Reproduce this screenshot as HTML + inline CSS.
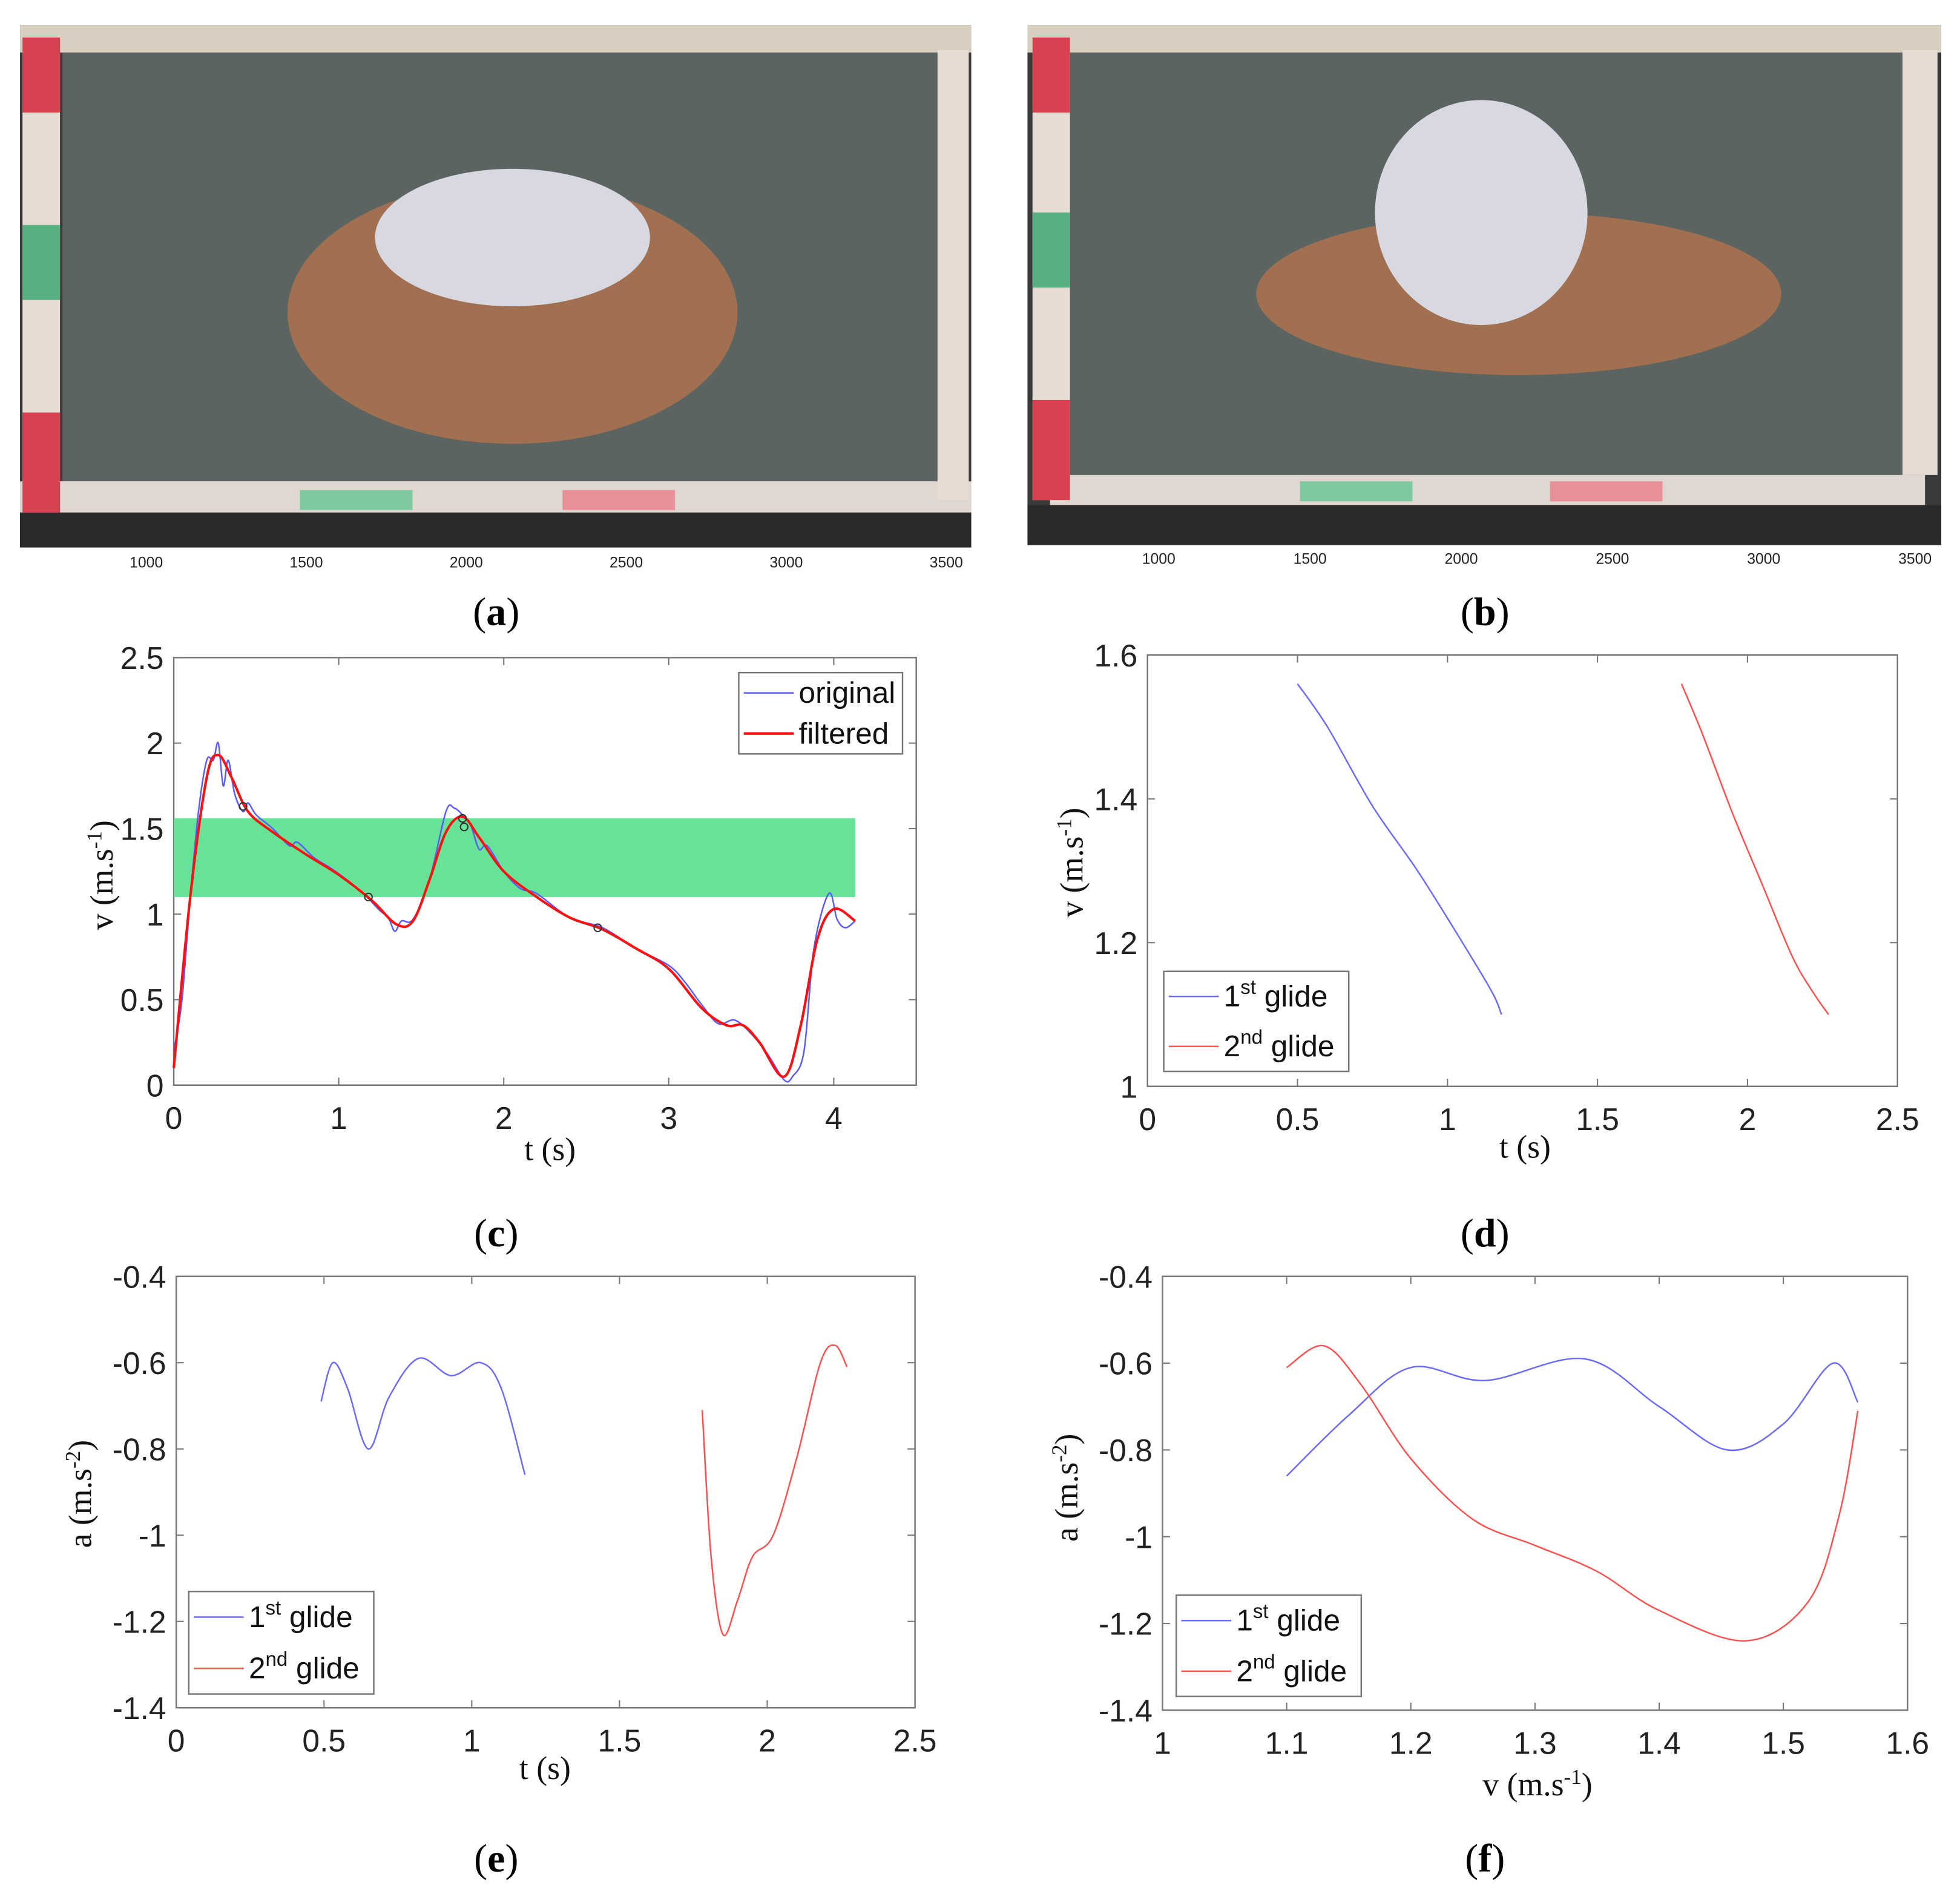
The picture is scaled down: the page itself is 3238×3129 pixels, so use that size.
<!DOCTYPE html>
<html><head><meta charset="utf-8"><style>
html,body{margin:0;padding:0;background:#fff;}
svg{display:block;}
.tk{font-family:"Liberation Sans Narrow","Liberation Sans",sans-serif;font-size:25px;fill:#222;}
.lb{font-family:"Liberation Serif",serif;font-size:26px;fill:#111;}
.cap{font-family:"Liberation Serif",serif;font-size:32px;fill:#000;}
.lg{font-family:"Liberation Sans Narrow","Liberation Sans",sans-serif;font-size:24px;fill:#111;}
.ph{font-family:"Liberation Sans Narrow","Liberation Sans",sans-serif;font-size:12px;fill:#222;}
</style></head><body>
<svg id="fig" width="3238" height="3129" viewBox="0 0 1568 1515" preserveAspectRatio="none" xmlns="http://www.w3.org/2000/svg">
<!-- photo a -->
<g>
<rect x="16" y="20" width="761" height="418" fill="#3a3a3a"/>
<rect x="50" y="42" width="700" height="350" fill="#5c6462"/>
<rect x="16" y="20" width="761" height="22" fill="#d8cfc0"/>
<rect x="16" y="385" width="761" height="25" fill="#e0d8d0"/>
<rect x="18" y="30" width="30" height="380" fill="#e6dcd3"/>
<rect x="18" y="30" width="30" height="60" fill="#d94050"/>
<rect x="18" y="180" width="30" height="60" fill="#58b080"/>
<rect x="18" y="330" width="30" height="80" fill="#d94050"/>
<rect x="750" y="40" width="25" height="360" fill="#e6dcd3"/>
<rect x="240" y="392" width="90" height="16" fill="#80c8a0"/>
<rect x="450" y="392" width="90" height="16" fill="#e89098"/>
<rect x="16" y="410" width="761" height="28" fill="#2a2a2a"/>
<ellipse cx="410" cy="250" rx="180" ry="105" fill="#a07050"/>
<ellipse cx="410" cy="190" rx="110" ry="55" fill="#d8d8e0"/>
<rect x="16" y="438" width="761" height="22" fill="#fff"/>
<text class="ph" x="117" y="454" text-anchor="middle">1000</text><text class="ph" x="245" y="454" text-anchor="middle">1500</text><text class="ph" x="373" y="454" text-anchor="middle">2000</text><text class="ph" x="501" y="454" text-anchor="middle">2500</text><text class="ph" x="629" y="454" text-anchor="middle">3000</text><text class="ph" x="757" y="454" text-anchor="middle">3500</text>
</g>
<!-- photo b -->
<g>
<rect x="822" y="20" width="731" height="416" fill="#3a3a3a"/>
<rect x="855" y="42" width="670" height="340" fill="#5c6462"/>
<rect x="822" y="20" width="731" height="22" fill="#d8cfc0"/>
<rect x="840" y="380" width="700" height="24" fill="#e0d8d0"/>
<rect x="826" y="30" width="30" height="370" fill="#e6dcd3"/>
<rect x="826" y="30" width="30" height="60" fill="#d94050"/>
<rect x="826" y="170" width="30" height="60" fill="#58b080"/>
<rect x="826" y="320" width="30" height="80" fill="#d94050"/>
<rect x="1522" y="40" width="28" height="340" fill="#e6dcd3"/>
<rect x="1040" y="385" width="90" height="16" fill="#80c8a0"/>
<rect x="1240" y="385" width="90" height="16" fill="#e89098"/>
<rect x="822" y="404" width="731" height="32" fill="#2a2a2a"/>
<ellipse cx="1215" cy="235" rx="210" ry="65" fill="#a07050"/>
<ellipse cx="1185" cy="170" rx="85" ry="90" fill="#d8d8e0"/>
<text class="ph" x="927" y="451" text-anchor="middle">1000</text><text class="ph" x="1048" y="451" text-anchor="middle">1500</text><text class="ph" x="1169" y="451" text-anchor="middle">2000</text><text class="ph" x="1290" y="451" text-anchor="middle">2500</text><text class="ph" x="1411" y="451" text-anchor="middle">3000</text><text class="ph" x="1532" y="451" text-anchor="middle">3500</text>
</g>
<text class="cap" x="397" y="500" text-anchor="middle">(<tspan font-weight="bold">a</tspan>)</text>
<text class="cap" x="1188" y="500" text-anchor="middle">(<tspan font-weight="bold">b</tspan>)</text>
<text class="cap" x="397" y="997" text-anchor="middle">(<tspan font-weight="bold">c</tspan>)</text>
<text class="cap" x="1188" y="997" text-anchor="middle">(<tspan font-weight="bold">d</tspan>)</text>
<text class="cap" x="397" y="1497" text-anchor="middle">(<tspan font-weight="bold">e</tspan>)</text>
<text class="cap" x="1188" y="1497" text-anchor="middle">(<tspan font-weight="bold">f</tspan>)</text>
</svg>
<script>
// Panel c data
const cOrigT=[0,0.05,0.1,0.15,0.2,0.24,0.27,0.3,0.33,0.37,0.42,0.45,0.5,0.6,0.7,0.75,0.85,0.95,1.05,1.15,1.25,1.3,1.34,1.38,1.45,1.55,1.65,1.7,1.75,1.8,1.85,1.9,2.0,2.1,2.2,2.4,2.6,2.8,3.0,3.1,3.2,3.3,3.4,3.5,3.6,3.7,3.75,3.82,3.88,3.97,4.02,4.07,4.13];
const cOrigV=[0.2,0.5,1.1,1.6,1.9,1.9,2.0,1.75,1.9,1.7,1.6,1.65,1.58,1.5,1.4,1.42,1.33,1.27,1.2,1.12,1.02,0.98,0.9,0.96,0.97,1.2,1.6,1.62,1.58,1.52,1.38,1.4,1.25,1.15,1.12,0.98,0.92,0.8,0.7,0.6,0.47,0.36,0.38,0.3,0.18,0.03,0.05,0.2,0.8,1.12,0.97,0.92,0.96];
const cFiltT=[0,0.1,0.2,0.27,0.35,0.45,0.6,0.8,1.0,1.2,1.35,1.45,1.55,1.65,1.75,1.85,2.0,2.2,2.4,2.6,2.8,3.0,3.2,3.35,3.45,3.55,3.7,3.8,3.9,4.0,4.13];
const cFiltV=[0.1,1.1,1.8,1.93,1.8,1.6,1.48,1.35,1.23,1.08,0.94,0.96,1.2,1.48,1.57,1.45,1.25,1.1,0.98,0.91,0.8,0.68,0.45,0.35,0.35,0.25,0.05,0.35,0.85,1.03,0.96];
const cMarkT=[0.42,1.18,1.75,1.76,2.57];
const cMarkV=[1.63,1.1,1.56,1.51,0.92];
const cBand=[1.1,1.56];
const cXTicks=[0,1,2,3,4];
const cYTicks=[0,0.5,1,1.5,2,2.5];
// Panel d data
const d1T=[0.5,0.6,0.75,0.9,1.05,1.15,1.18];
const d1V=[1.56,1.5,1.39,1.3,1.2,1.13,1.1];
const d2T=[1.78,1.85,1.95,2.05,2.15,2.22,2.27];
const d2V=[1.56,1.49,1.38,1.28,1.18,1.13,1.1];
const dXTicks=[0,0.5,1,1.5,2,2.5];
const dYTicks=[1,1.2,1.4,1.6];
// Panel e data
const e1T=[0.49,0.53,0.58,0.65,0.72,0.82,0.93,1.03,1.1,1.18];
const e1A=[-0.69,-0.6,-0.66,-0.8,-0.68,-0.59,-0.63,-0.6,-0.66,-0.86];
const e2T=[1.78,1.81,1.85,1.9,1.95,2.02,2.1,2.18,2.23,2.27];
const e2A=[-0.71,-1.05,-1.23,-1.15,-1.05,-1.0,-0.82,-0.6,-0.56,-0.61];
const eXTicks=[0,0.5,1,1.5,2,2.5];
const eYTicks=[-1.4,-1.2,-1,-0.8,-0.6,-0.4];
// Panel f data
const f1V=[1.1,1.15,1.2,1.26,1.34,1.4,1.455,1.5,1.54,1.56];
const f1A=[-0.86,-0.72,-0.61,-0.64,-0.59,-0.7,-0.8,-0.74,-0.6,-0.69];
const f2V=[1.1,1.13,1.16,1.2,1.25,1.3,1.35,1.4,1.47,1.52,1.545,1.56];
const f2A=[-0.61,-0.56,-0.65,-0.82,-0.96,-1.02,-1.08,-1.17,-1.24,-1.15,-0.95,-0.71];
const fXTicks=[1,1.1,1.2,1.3,1.4,1.5,1.6];
const fYTicks=[-1.4,-1.2,-1,-0.8,-0.6,-0.4];

const svg=document.getElementById('fig');
const NS='http://www.w3.org/2000/svg';
function mk(tag,attrs,parent){const e=document.createElementNS(NS,tag);for(const k in attrs)e.setAttribute(k,attrs[k]);(parent||svg).appendChild(e);return e;}
function smooth(pts){
  let d='M'+pts[0][0].toFixed(2)+','+pts[0][1].toFixed(2);
  for(let i=0;i<pts.length-1;i++){
    const p0=pts[Math.max(0,i-1)],p1=pts[i],p2=pts[i+1],p3=pts[Math.min(pts.length-1,i+2)];
    const c1=[p1[0]+(p2[0]-p0[0])/6,p1[1]+(p2[1]-p0[1])/6];
    const c2=[p2[0]-(p3[0]-p1[0])/6,p2[1]-(p3[1]-p1[1])/6];
    d+=' C'+c1[0].toFixed(2)+','+c1[1].toFixed(2)+' '+c2[0].toFixed(2)+','+c2[1].toFixed(2)+' '+p2[0].toFixed(2)+','+p2[1].toFixed(2);
  }
  return d;
}
function axes(name,box,xd,yd,xt,yt){
  const g=mk('g',{});
  
  
  const sx=v=>box.x0+(v-xd[0])/(xd[1]-xd[0])*(box.x1-box.x0);
  const sy=v=>box.y1-(v-yd[0])/(yd[1]-yd[0])*(box.y1-box.y0);
  const r=mk('rect',{x:box.x0,y:box.y0,width:box.x1-box.x0,height:box.y1-box.y0,fill:'none',stroke:'#777','stroke-width':1.2},g);
  
  
  xt.forEach(v=>{const x=sx(v);
    mk('line',{x1:x,y1:box.y1,x2:x,y2:box.y1-6,stroke:'#777'},g);
    mk('line',{x1:x,y1:box.y0,x2:x,y2:box.y0+6,stroke:'#777'},g);
    const t=mk('text',{class:'tk',x:x,y:box.y1+35,'text-anchor':'middle'},g);t.textContent=String(v);
    
    });
  yt.forEach(v=>{const y=sy(v);
    mk('line',{x1:box.x0,y1:y,x2:box.x0+6,y2:y,stroke:'#777'},g);
    mk('line',{x1:box.x1,y1:y,x2:box.x1-6,y2:y,stroke:'#777'},g);
    const t=mk('text',{class:'tk',x:box.x0-8,y:y+9,'text-anchor':'end'},g);t.textContent=String(v);
    
    });
  return {g,sx,sy};
}
function line(ax,xs,ys,color,w,name){
  const p=mk('path',{d:smooth(xs.map((x,i)=>[ax.sx(x),ax.sy(ys[i])])),fill:'none',stroke:color,'stroke-width':w},ax.g);
  
  
}
function label(g,x,y,html,rot,name){
  const t=mk('text',{class:'lb',x:x,y:y,'text-anchor':'middle'},g);
  if(rot)t.setAttribute('transform','rotate(-90 '+x+' '+y+')');
  t.innerHTML=html;
  
  
}
function legend(g,x,y,w,h,items,name){
  const lg=mk('g',{},g);
  
  
  mk('rect',{x:x,y:y,width:w,height:h,fill:'#fff',stroke:'#777','stroke-width':1.2},lg);
  items.forEach((it,i)=>{const yy=y+h*(i+0.5)/items.length;
    mk('line',{x1:x+4,y1:yy,x2:x+44,y2:yy,stroke:it.c,'stroke-width':it.w},lg);
    const t=mk('text',{class:'lg',x:x+48,y:yy+8},lg);t.innerHTML=it.t;
    
    });
}
const gl1='1<tspan font-size="16" dy="-10">st</tspan><tspan dy="10"> glide</tspan>';
const gl2='2<tspan font-size="16" dy="-10">nd</tspan><tspan dy="10"> glide</tspan>';

// Panel c
const c=axes('chart-c-velocity',{x0:139,x1:733,y0:526,y1:868},[0,4.5],[0,2.5],cXTicks,cYTicks);
const band=mk('rect',{x:c.sx(0),y:c.sy(cBand[1]),width:c.sx(4.13)-c.sx(0),height:c.sy(cBand[0])-c.sy(cBand[1]),fill:'#66e396'},c.g);


line(c,cOrigT,cOrigV,'#5b5bff',1.2,'original-series');
line(c,cFiltT,cFiltV,'#ff1010',2,'filtered-series');
cMarkT.forEach((t,i)=>{const m=mk('circle',{cx:c.sx(t),cy:c.sy(cMarkV[i]),r:3,fill:'none',stroke:'#333'},c.g);
  
  });
legend(c.g,591,538,131,65,[{c:'#5b5bff',w:1.2,t:'original'},{c:'#ff1010',w:2,t:'filtered'}],'legend-c');
label(c.g,90,700,'v (m.s<tspan font-size="17" dy="-9">-1</tspan><tspan dy="9">)</tspan>',true,'y-axis-title');
label(c.g,440,928,'t (s)',false,'x-axis-title');

// Panel d
const d=axes('chart-d-glide-velocity',{x0:918,x1:1518,y0:524,y1:869},[0,2.5],[1,1.6],dXTicks,dYTicks);
line(d,d1T,d1V,'#6a6aff',1.2,'first-glide-series');
line(d,d2T,d2V,'#ff5050',1.2,'second-glide-series');
legend(d.g,931,777,148,80,[{c:'#6a6aff',w:1.2,t:gl1},{c:'#ff5050',w:1.2,t:gl2}],'legend-d');
label(d.g,866,690,'v (m.s<tspan font-size="17" dy="-9">-1</tspan><tspan dy="9">)</tspan>',true,'y-axis-title');
label(d.g,1220,926,'t (s)',false,'x-axis-title');

// Panel e
const e=axes('chart-e-acceleration',{x0:141,x1:732,y0:1021,y1:1366},[0,2.5],[-1.4,-0.4],eXTicks,eYTicks);
line(e,e1T,e1A,'#6a6aff',1.2,'first-glide-series');
line(e,e2T,e2A,'#ff5050',1.2,'second-glide-series');
legend(e.g,151,1273,148,82,[{c:'#6a6aff',w:1.2,t:gl1},{c:'#ff5050',w:1.2,t:gl2}],'legend-e');
label(e.g,73,1195,'a (m.s<tspan font-size="17" dy="-9">-2</tspan><tspan dy="9">)</tspan>',true,'y-axis-title');
label(e.g,436,1423,'t (s)',false,'x-axis-title');

// Panel f
const f=axes('chart-f-accel-vs-velocity',{x0:930,x1:1526,y0:1021,y1:1368},[1,1.6],[-1.4,-0.4],fXTicks,fYTicks);
line(f,f1V,f1A,'#6a6aff',1.2,'first-glide-series');
line(f,f2V,f2A,'#ff5050',1.2,'second-glide-series');
legend(f.g,941,1276,148,81,[{c:'#6a6aff',w:1.2,t:gl1},{c:'#ff5050',w:1.2,t:gl2}],'legend-f');
label(f.g,862,1190,'a (m.s<tspan font-size="17" dy="-9">-2</tspan><tspan dy="9">)</tspan>',true,'y-axis-title');
label(f.g,1230,1436,'v (m.s<tspan font-size="17" dy="-9">-1</tspan><tspan dy="9">)</tspan>',false,'x-axis-title');
</script>
</body></html>
